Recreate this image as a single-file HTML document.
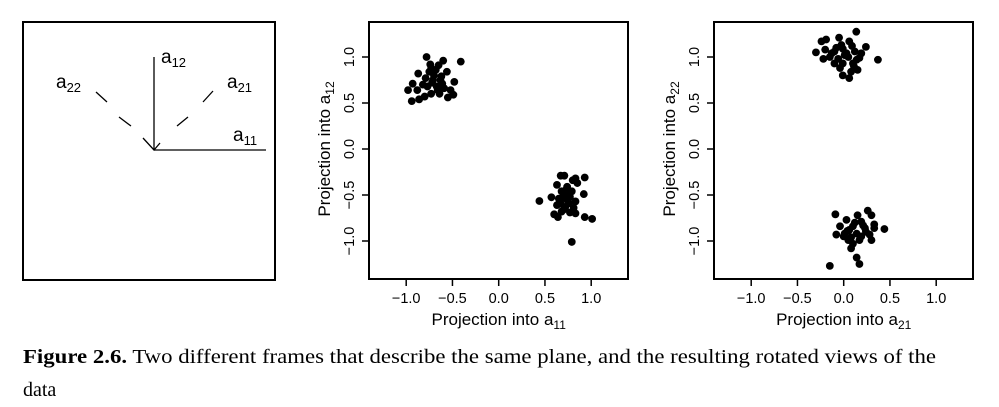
<!DOCTYPE html>
<html><head><meta charset="utf-8"><style>
body{margin:0;background:#fff;width:999px;height:407px;overflow:hidden}
svg{display:block}
text{font-family:"Liberation Sans",Arial,sans-serif;fill:#000}
.serif{font-family:"Liberation Serif",serif}
</style></head><body>
<svg id="fig" width="999" height="407" viewBox="0 0 999 407">
<g>
<rect x="23" y="22" width="252" height="258" fill="none" stroke="#000" stroke-width="2"/>
<line x1="154" y1="57" x2="154" y2="150" stroke="#000" stroke-width="1.3"/>
<line x1="154" y1="150" x2="266" y2="150" stroke="#000" stroke-width="1.3"/>
<path d="M143 138 L154 150 L160 143" fill="none" stroke="#000" stroke-width="1.3"/>
<path d="M96 92 L107 102 M119 117 L131 126" stroke="#000" stroke-width="1.3"/>
<path d="M213 91 L203 102 M188 117 L177 126" stroke="#000" stroke-width="1.3"/>
<text x="161" y="63" font-size="19">a<tspan font-size="13" dy="4">12</tspan></text>
<text x="56" y="88" font-size="19">a<tspan font-size="13" dy="4">22</tspan></text>
<text x="227" y="88" font-size="19">a<tspan font-size="13" dy="4">21</tspan></text>
<text x="233" y="141" font-size="19">a<tspan font-size="13" dy="4">11</tspan></text>
</g>
<text x="23" y="363" font-size="20" class="serif" textLength="913" lengthAdjust="spacingAndGlyphs"><tspan font-weight="bold">Figure 2.6.</tspan> Two different frames that describe the same plane, and the resulting rotated views of the</text>
<text x="23" y="396" font-size="20" class="serif">data</text>
</svg>
<script>
const xTicks=[-1.0,-0.5,0.0,0.5,1.0];
const yTicks=[-1.0,-0.5,0.0,0.5,1.0];
const tickLabels=["\u22121.0","\u22120.5","0.0","0.5","1.0"];
const p1X=[-0.78,-0.60,-0.41,-0.65,-0.73,-0.87,-0.56,-0.70,-0.62,-0.48,-0.93,-0.98,-0.88,-0.77,-0.66,-0.52,-0.80,-0.86,-0.94,-0.55,-0.49,-0.71,-0.75,-0.68,-0.61,-0.64,-0.79,-0.73,-0.59,-0.82,-0.72,-0.67,-0.74,-0.63,
0.67,0.71,0.83,0.93,0.63,0.74,0.85,0.68,0.79,0.92,0.57,0.44,0.65,0.74,0.83,0.63,0.72,0.81,0.60,0.64,0.68,0.77,0.83,0.93,1.01,0.79,0.70,0.77,0.67,0.76,0.73,0.80,0.70,0.75];
const p1Y=[1.00,0.96,0.95,0.91,0.88,0.82,0.84,0.80,0.79,0.73,0.71,0.64,0.64,0.68,0.64,0.64,0.57,0.54,0.52,0.56,0.59,0.75,0.84,0.86,0.71,0.60,0.77,0.60,0.66,0.70,0.72,0.68,0.92,0.75,
-0.29,-0.29,-0.32,-0.31,-0.39,-0.41,-0.37,-0.46,-0.46,-0.49,-0.525,-0.565,-0.54,-0.55,-0.57,-0.61,-0.63,-0.64,-0.71,-0.74,-0.68,-0.69,-0.70,-0.74,-0.76,-1.01,-0.52,-0.52,-0.59,-0.59,-0.44,-0.34,-0.66,-0.50];
const p2X=[0.136,-0.05,-0.19,-0.24,0.06,0.24,-0.30,-0.20,-0.10,-0.01,0.12,0.19,-0.15,-0.06,0.05,0.17,0.37,-0.22,-0.10,-0.01,0.10,-0.04,0.15,0.08,-0.01,0.06,0.03,-0.025,-0.13,0.14,0.09,0.01,-0.08,0.11,
-0.09,0.26,0.30,0.15,0.03,0.19,0.33,0.44,-0.04,0.10,0.23,-0.08,0.01,0.14,0.28,0.05,0.17,0.30,0.08,0.14,0.17,-0.15,0.10,0.00,0.24,0.33,0.06,0.19,0.12,0.08,0.21,0.04];
const p2Y=[1.275,1.21,1.19,1.17,1.17,1.11,1.05,1.08,1.06,1.09,1.06,1.04,1.00,0.98,1.00,0.99,0.97,0.98,0.93,0.93,0.93,0.88,0.86,0.84,0.80,0.77,1.04,1.13,1.04,0.97,1.12,1.02,1.10,0.90,
-0.71,-0.67,-0.72,-0.72,-0.77,-0.79,-0.82,-0.87,-0.84,-0.84,-0.86,-0.93,-0.92,-0.92,-0.93,-0.99,-0.99,-0.99,-1.08,-1.18,-1.25,-1.27,-1.03,-0.95,-0.90,-0.86,-0.88,-0.95,-0.80,-0.96,-0.83,-0.89];

const NS="http://www.w3.org/2000/svg";
const svg=document.getElementById('fig');
function mk(tag,attrs,parent){const e=document.createElementNS(NS,tag);for(const k in attrs)e.setAttribute(k,attrs[k]);(parent||svg).appendChild(e);return e;}

function panel(name,left,xs,ys,xSub,ySub){
  const g=mk('g',{});
  
  
  const box={l:left,r:left+259,t:22,b:279};
  const x0=left+129.7, ux=92.5, y0=149, uy=92;
  const sx=v=>x0+v*ux, sy=v=>y0-v*uy;
  const rect=mk('rect',{x:box.l,y:box.t,width:box.r-box.l,height:box.b-box.t,fill:'none',stroke:'#000','stroke-width':2},g);
  
  
  xTicks.forEach((v,i)=>{
    const t=mk('line',{x1:sx(v),x2:sx(v),y1:box.b,y2:box.b+7,stroke:'#000','stroke-width':1.5},g);
    
    
    const l=mk('text',{x:sx(v),y:303,'font-size':14.5,'text-anchor':'middle'},g);
    l.textContent=tickLabels[i];
    
    
  });
  yTicks.forEach((v,i)=>{
    const t=mk('line',{x1:box.l-7,x2:box.l,y1:sy(v),y2:sy(v),stroke:'#000','stroke-width':1.5},g);
    
    
    const tx=box.l-15;
    const l=mk('text',{x:tx,y:sy(v),'font-size':14.5,'text-anchor':'middle',transform:`rotate(-90 ${tx} ${sy(v)})`},g);
    l.textContent=tickLabels[i];
    
    
  });
  const xt=mk('text',{x:x0,y:325,'font-size':17,'text-anchor':'middle'},g);
  xt.innerHTML='Projection into a<tspan font-size="12" dy="4">'+xSub+'</tspan>';
  
  
  const yx=box.l-39;
  const yt=mk('text',{x:yx,y:y0,'font-size':17,'text-anchor':'middle',transform:`rotate(-90 ${yx} ${y0})`},g);
  yt.innerHTML='Projection into a<tspan font-size="12" dy="4">'+ySub+'</tspan>';
  
  
  xs.forEach((v,i)=>{
    const c=mk('circle',{cx:sx(v),cy:sy(ys[i]),r:3.9,fill:'#000'},g);
    
    
  });
}
panel('scatter-a11-a12',369,p1X,p1Y,'11','12');
panel('scatter-a21-a22',714,p2X,p2Y,'21','22');
</script>
</body></html>
